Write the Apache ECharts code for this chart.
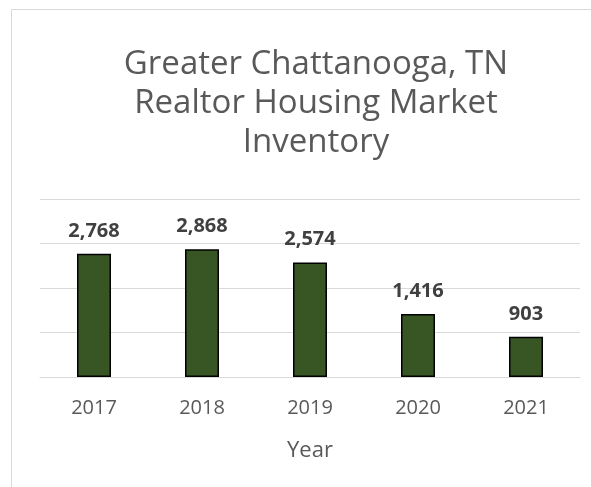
<!DOCTYPE html>
<html>
<head>
<meta charset="utf-8">
<script src="https://cdn.jsdelivr.net/npm/echarts@6/dist/echarts.min.js"></script>
<style>
  html, body { margin: 0; padding: 0; background: #fff; }
  #chart { width: 591px; height: 487px; }
</style>
</head>
<body>
<div id="chart"></div>
<script>
const years = ['2017', '2018', '2019', '2020', '2021']
const inventory = [2768, 2868, 2574, 1416, 903]

const font = '"Open Sans", sans-serif'

const chart = echarts.init(document.getElementById('chart'))
chart.setOption({
  animation: false,
  graphic: [{
    type: 'rect',
    shape: { x: 11.5, y: 9.5, width: 700, height: 600 },
    style: { fill: 'none', stroke: '#d9d9d9', lineWidth: 1 },
    silent: true
  }],
  title: {
    text: 'Greater Chattanooga, TN\nRealtor Housing Market\nInventory',
    left: 311,
    textAlign: 'center',
    top: 40,
    textStyle: {
      fontFamily: font,
      fontSize: 33,
      fontWeight: 'normal',
      lineHeight: 39,
      color: '#595959'
    }
  },
  grid: {
    left: 40,
    right: 11,
    top: 199,
    bottom: 110
  },
  xAxis: {
    type: 'category',
    data: years,
    name: 'Year',
    nameLocation: 'middle',
    nameGap: 63,
    nameTextStyle: { fontFamily: font, fontSize: 22, color: '#595959' },
    axisLine: { lineStyle: { color: '#d9d9d9', width: 1 } },
    axisTick: { show: false },
    axisLabel: { fontFamily: font, fontSize: 20, color: '#595959', margin: 21 }
  },
  yAxis: {
    type: 'value',
    min: 0,
    max: 4000,
    interval: 1000,
    axisLabel: { show: false },
    axisLine: { show: false },
    axisTick: { show: false },
    splitLine: { lineStyle: { color: '#d9d9d9', width: 1 } }
  },
  series: [{
    type: 'bar',
    data: inventory,
    barWidth: 34,
    itemStyle: {
      color: '#375623',
      borderColor: '#000',
      borderWidth: 1.5
    },
    label: {
      show: true,
      position: 'top',
      distance: 13,
      formatter: p => p.value.toLocaleString('en-US'),
      fontFamily: font,
      fontSize: 20,
      fontWeight: 'bold',
      color: '#404040'
    }
  }]
})
</script>
</body>
</html>
